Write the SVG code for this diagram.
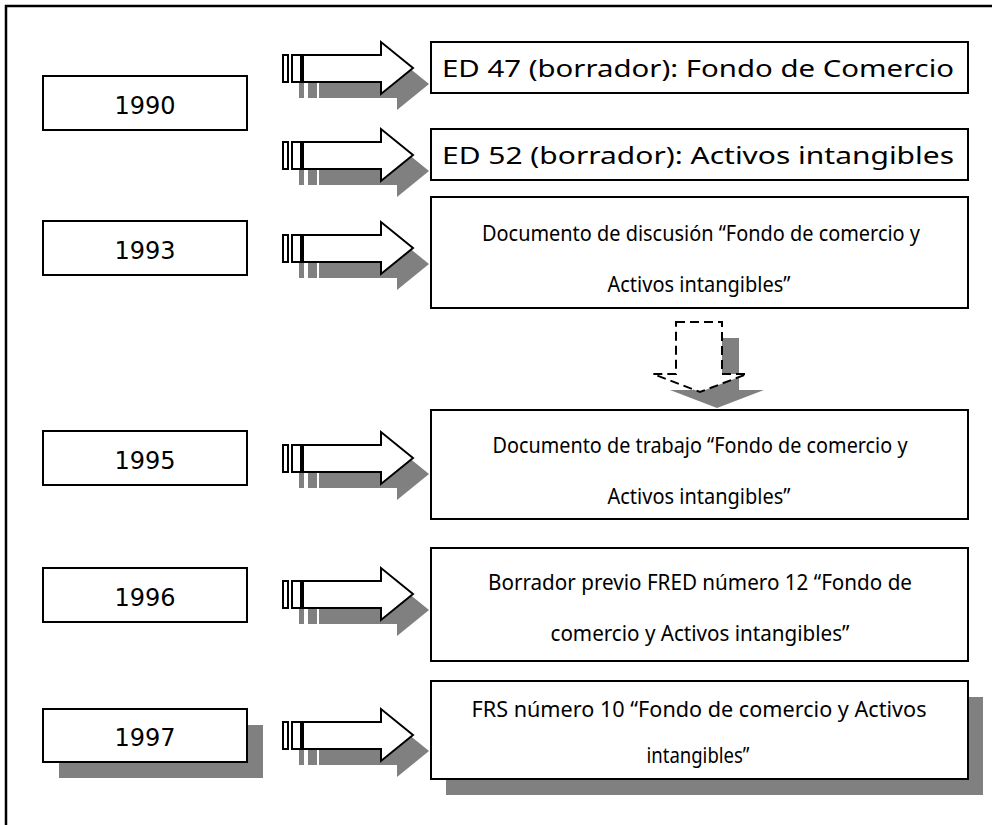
<svg xmlns="http://www.w3.org/2000/svg" width="992" height="825" viewBox="0 0 992 825">
  <style>
    .frame { fill: none; stroke: #000; stroke-width: 2.5; }
    .box { fill: #fff; stroke: #000; stroke-width: 2; }
    .shadow { fill: #808080; stroke: none; }
    .year { font-family: "DejaVu Sans", sans-serif; font-size: 24px; fill: #000; text-anchor: middle; }
    .label { font-family: "Noto Sans", sans-serif; font-size: 24px; fill: #000; text-anchor: middle; }
    .note { font-family: "Noto Sans", sans-serif; font-size: 22px; fill: #000; text-anchor: middle; }
    .arrow { fill: #fff; stroke: #000; stroke-width: 2; stroke-linejoin: miter; }
    .dashed { fill: #fff; stroke: #000; stroke-width: 2; stroke-dasharray: 9 5; }
  </style>
  <defs>
    <!-- striped block arrow, centred on y=0 -->
    <g id="blockArrow">
      <g class="shadow" transform="translate(16,16)">
        <rect x="283" y="-13" width="5" height="27"/>
        <rect x="292" y="-13" width="9" height="27"/>
        <polygon points="303,-13 381,-13 381,-26 413,0 381,26 381,14 303,14"/>
      </g>
      <g class="arrow">
        <rect x="283" y="-13" width="5" height="27"/>
        <rect x="292" y="-13" width="9" height="27"/>
        <polygon points="303,-13 381,-13 381,-26 413,0 381,26 381,14 303,14"/>
      </g>
    </g>
  </defs>

  <!-- outer frame -->
  <path class="frame" d="M6,825 V6 H992"/>

  <!-- connectors -->
  <g id="connectors">
    <use href="#blockArrow" y="68"/>
    <use href="#blockArrow" y="155"/>
    <use href="#blockArrow" y="248"/>
    <use href="#blockArrow" y="458"/>
    <use href="#blockArrow" y="594"/>
    <use href="#blockArrow" y="735"/>
    <g id="dashed-arrow">
      <polygon class="shadow" transform="translate(17,16)" points="676,322 722,322 722,374 747,374 700,392 653,374 676,374"/>
      <polygon class="dashed" points="676,322 722,322 722,374 747,374 700,392 653,374 676,374"/>
    </g>
  </g>

  <!-- year nodes -->
  <g id="y1990">
    <rect class="box" x="43" y="76" width="204" height="54"/>
    <text class="year" x="145" y="114">1990</text>
  </g>
  <g id="y1993">
    <rect class="box" x="43" y="221" width="204" height="54"/>
    <text class="year" x="145" y="259">1993</text>
  </g>
  <g id="y1995">
    <rect class="box" x="43" y="431" width="204" height="54"/>
    <text class="year" x="145" y="469">1995</text>
  </g>
  <g id="y1996">
    <rect class="box" x="43" y="568" width="204" height="54"/>
    <text class="year" x="145" y="606">1996</text>
  </g>
  <g id="y1997">
    <rect class="shadow" x="59" y="725" width="204" height="53"/>
    <rect class="box" x="43" y="709" width="204" height="53"/>
    <text class="year" x="145" y="746">1997</text>
  </g>

  <!-- document nodes -->
  <g id="ed47">
    <rect class="box" x="431" y="42" width="537" height="51"/>
    <text class="label" x="698" y="77" textLength="512" lengthAdjust="spacingAndGlyphs">ED 47 (borrador): Fondo de Comercio</text>
  </g>
  <g id="ed52">
    <rect class="box" x="431" y="129" width="537" height="51"/>
    <text class="label" x="698" y="164" textLength="512" lengthAdjust="spacingAndGlyphs">ED 52 (borrador): Activos intangibles</text>
  </g>
  <g id="discusion">
    <rect class="box" x="431" y="197" width="537" height="111"/>
    <text class="note" x="701" y="241" textLength="438" lengthAdjust="spacingAndGlyphs">Documento de discusión “Fondo de comercio y</text>
    <text class="note" x="699" y="292" textLength="183" lengthAdjust="spacingAndGlyphs">Activos intangibles”</text>
  </g>
  <g id="trabajo">
    <rect class="box" x="431" y="410" width="537" height="109"/>
    <text class="note" x="700" y="453" textLength="415" lengthAdjust="spacingAndGlyphs">Documento de trabajo “Fondo de comercio y</text>
    <text class="note" x="699" y="504" textLength="183" lengthAdjust="spacingAndGlyphs">Activos intangibles”</text>
  </g>
  <g id="fred12">
    <rect class="box" x="431" y="548" width="537" height="113"/>
    <text class="note" x="700" y="590" textLength="424" lengthAdjust="spacingAndGlyphs">Borrador previo FRED número 12 “Fondo de</text>
    <text class="note" x="700" y="641" textLength="299" lengthAdjust="spacingAndGlyphs">comercio y Activos intangibles”</text>
  </g>
  <g id="frs10">
    <rect class="shadow" x="446" y="697" width="537" height="98"/>
    <rect class="box" x="431" y="681" width="537" height="98"/>
    <text class="note" x="699" y="717" textLength="455" lengthAdjust="spacingAndGlyphs">FRS  número 10  “Fondo de comercio y Activos</text>
    <text class="note" x="698" y="763" textLength="103" lengthAdjust="spacingAndGlyphs">intangibles”</text>
  </g>
</svg>
